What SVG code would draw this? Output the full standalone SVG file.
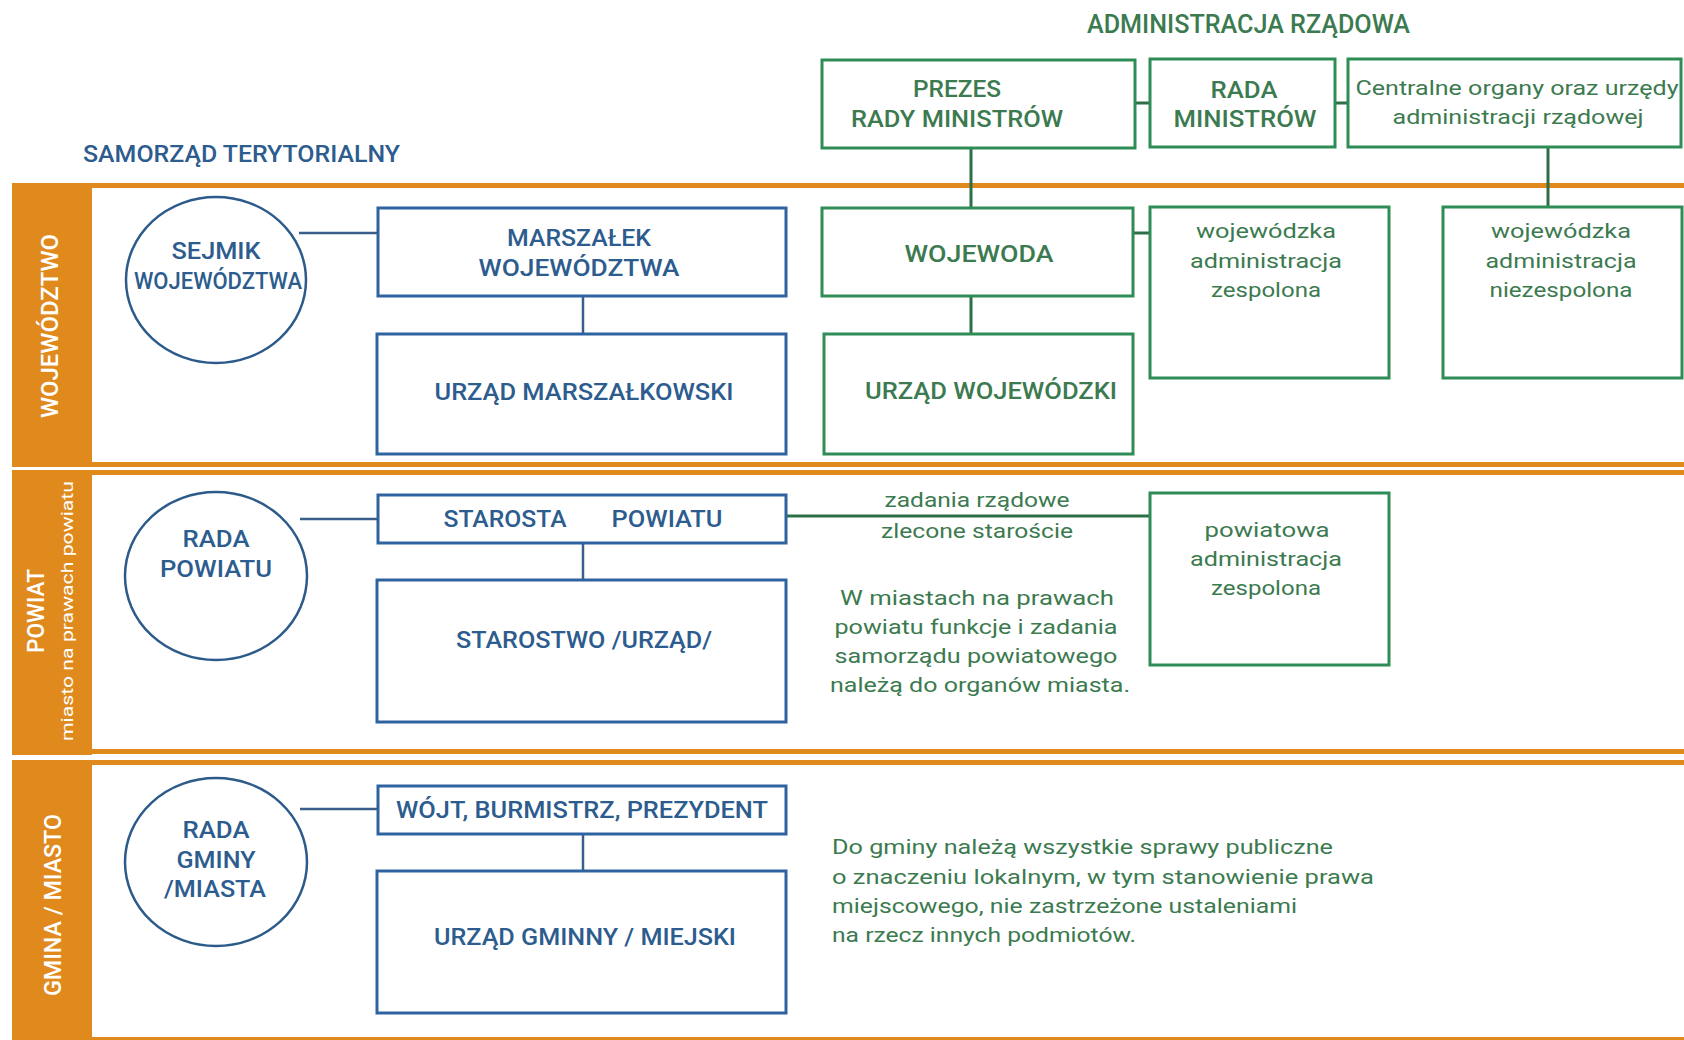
<svg xmlns="http://www.w3.org/2000/svg" width="1684" height="1040" viewBox="0 0 1684 1040">
<style>
.o{fill:#E08A1E}
.bb{fill:#fff;stroke:#2F63A0;stroke-width:3}
.gb{fill:#fff;stroke:#2E8C57;stroke-width:3}
.bl{stroke:#3A5F8A;stroke-width:2.5;fill:none}
.gl{stroke:#2D6E47;stroke-width:3;fill:none}
text{font-family:Roboto,"Liberation Sans",sans-serif}
.bt{fill:#2D5C8E;font-size:24px;font-weight:500;text-anchor:middle}
.gt{fill:#3C7A4F;font-size:24px;font-weight:500;text-anchor:middle}
.gs{fill:#3C7A4F;font-size:21px;text-anchor:middle}
.gp{fill:#3C7A4F;font-size:21px}
.wt{fill:#fff;font-size:24px;font-weight:500;text-anchor:middle}
.ws{fill:#fff;font-size:17px;text-anchor:middle}
</style>
<rect width="1684" height="1040" fill="#fff"/>
<g id="bands">
<rect class="o" x="12" y="183" width="1672" height="5"/>
<rect class="o" x="12" y="183" width="80" height="284"/>
<rect class="o" x="12" y="462" width="1672" height="5"/>
<rect class="o" x="12" y="470" width="1672" height="5"/>
<rect class="o" x="12" y="470" width="80" height="285"/>
<rect class="o" x="12" y="749" width="1672" height="5"/>
<rect class="o" x="12" y="760" width="1672" height="5"/>
<rect class="o" x="12" y="760" width="80" height="280"/>
<rect class="o" x="12" y="1037" width="1672" height="3"/>
<text class="wt" transform="translate(58,326) rotate(-90)" textLength="184" lengthAdjust="spacingAndGlyphs">WOJEWÓDZTWO</text>
<text class="wt" transform="translate(44,611) rotate(-90)" textLength="84" lengthAdjust="spacingAndGlyphs">POWIAT</text>
<text class="ws" transform="translate(73,611) rotate(-90)" textLength="260" lengthAdjust="spacingAndGlyphs">miasto na prawach powiatu</text>
<text class="wt" transform="translate(61,905) rotate(-90)" textLength="182" lengthAdjust="spacingAndGlyphs">GMINA / MIASTO</text>
</g>
<g id="headers">
<text x="83" y="162" fill="#2D5C8E" font-size="24" font-weight="500" textLength="317" lengthAdjust="spacingAndGlyphs">SAMORZĄD TERYTORIALNY</text>
<text x="1087" y="33" fill="#3C7A4F" font-size="25" font-weight="500" textLength="323" lengthAdjust="spacingAndGlyphs">ADMINISTRACJA RZĄDOWA</text>
</g>
<g id="connectors">
<line class="gl" x1="1135" y1="103" x2="1150" y2="103"/>
<line class="gl" x1="1335" y1="103" x2="1348" y2="103"/>
<line class="gl" x1="971" y1="148" x2="971" y2="208"/>
<line class="gl" x1="1548" y1="147" x2="1548" y2="207"/>
<line class="gl" x1="1133" y1="233" x2="1150" y2="233"/>
<line class="gl" x1="971" y1="296" x2="971" y2="334"/>
<line class="gl" x1="786" y1="516" x2="1150" y2="516"/>
<line class="bl" x1="299" y1="233" x2="378" y2="233"/>
<line class="bl" x1="583" y1="296" x2="583" y2="334"/>
<line class="bl" x1="300" y1="519" x2="378" y2="519"/>
<line class="bl" x1="583" y1="543" x2="583" y2="580"/>
<line class="bl" x1="300" y1="809" x2="378" y2="809"/>
<line class="bl" x1="583" y1="834" x2="583" y2="871"/>
</g>
<g id="prezes">
<rect class="gb" x="822" y="60" width="313" height="88"/>
<text class="gt" x="957" y="97" textLength="88" lengthAdjust="spacingAndGlyphs">PREZES</text>
<text class="gt" x="957" y="127" textLength="212" lengthAdjust="spacingAndGlyphs">RADY MINISTRÓW</text>
</g>
<g id="rada-ministrow">
<rect class="gb" x="1150" y="59" width="185" height="88"/>
<text class="gt" x="1244" y="98" textLength="67" lengthAdjust="spacingAndGlyphs">RADA</text>
<text class="gt" x="1245" y="127" textLength="143" lengthAdjust="spacingAndGlyphs">MINISTRÓW</text>
</g>
<g id="centralne">
<rect class="gb" x="1348" y="59" width="333" height="88"/>
<text class="gs" x="1517" y="95" textLength="323" lengthAdjust="spacingAndGlyphs">Centralne organy oraz urzędy</text>
<text class="gs" x="1518" y="124" textLength="251" lengthAdjust="spacingAndGlyphs">administracji rządowej</text>
</g>
<g id="wojewoda">
<rect class="gb" x="822" y="208" width="311" height="88"/>
<text class="gt" x="979" y="262" textLength="149" lengthAdjust="spacingAndGlyphs">WOJEWODA</text>
</g>
<g id="urzad-wojewodzki">
<rect class="gb" x="824" y="334" width="309" height="120"/>
<text class="gt" x="991" y="399" textLength="252" lengthAdjust="spacingAndGlyphs">URZĄD WOJEWÓDZKI</text>
</g>
<g id="woj-zespolona">
<rect class="gb" x="1150" y="207" width="239" height="171"/>
<text class="gs" x="1266" y="238" textLength="140" lengthAdjust="spacingAndGlyphs">wojewódzka</text>
<text class="gs" x="1266" y="268" textLength="152" lengthAdjust="spacingAndGlyphs">administracja</text>
<text class="gs" x="1266" y="297" textLength="110" lengthAdjust="spacingAndGlyphs">zespolona</text>
</g>
<g id="woj-niezespolona">
<rect class="gb" x="1443" y="207" width="239" height="171"/>
<text class="gs" x="1561" y="238" textLength="140" lengthAdjust="spacingAndGlyphs">wojewódzka</text>
<text class="gs" x="1561" y="268" textLength="151" lengthAdjust="spacingAndGlyphs">administracja</text>
<text class="gs" x="1561" y="297" textLength="143" lengthAdjust="spacingAndGlyphs">niezespolona</text>
</g>
<g id="pow-zespolona">
<rect class="gb" x="1150" y="493" width="239" height="172"/>
<text class="gs" x="1267" y="537" textLength="125" lengthAdjust="spacingAndGlyphs">powiatowa</text>
<text class="gs" x="1266" y="566" textLength="152" lengthAdjust="spacingAndGlyphs">administracja</text>
<text class="gs" x="1266" y="595" textLength="110" lengthAdjust="spacingAndGlyphs">zespolona</text>
</g>
<g id="zadania-label">
<text class="gs" x="977" y="507" textLength="185" lengthAdjust="spacingAndGlyphs">zadania rządowe</text>
<text class="gs" x="977" y="538" textLength="192" lengthAdjust="spacingAndGlyphs">zlecone staroście</text>
</g>
<g id="note-powiat">
<text class="gs" x="977" y="605" textLength="274" lengthAdjust="spacingAndGlyphs">W miastach na prawach</text>
<text class="gs" x="976" y="634" textLength="283" lengthAdjust="spacingAndGlyphs">powiatu funkcje i zadania</text>
<text class="gs" x="976" y="663" textLength="283" lengthAdjust="spacingAndGlyphs">samorządu powiatowego</text>
<text class="gs" x="980" y="692" textLength="300" lengthAdjust="spacingAndGlyphs">należą do organów miasta.</text>
</g>
<g id="note-gmina">
<text class="gp" x="832" y="854" textLength="501" lengthAdjust="spacingAndGlyphs">Do gminy należą wszystkie sprawy publiczne</text>
<text class="gp" x="832" y="884" textLength="542" lengthAdjust="spacingAndGlyphs">o znaczeniu lokalnym, w tym stanowienie prawa</text>
<text class="gp" x="832" y="913" textLength="465" lengthAdjust="spacingAndGlyphs">miejscowego, nie zastrzeżone ustaleniami</text>
<text class="gp" x="832" y="942" textLength="304" lengthAdjust="spacingAndGlyphs">na rzecz innych podmiotów.</text>
</g>
<g id="sejmik">
<ellipse cx="216" cy="280" rx="90" ry="83" fill="#fff" stroke="#2C5A8A" stroke-width="2.5"/>
<text class="bt" x="216" y="259" textLength="89" lengthAdjust="spacingAndGlyphs">SEJMIK</text>
<text class="bt" x="218" y="289" textLength="168" lengthAdjust="spacingAndGlyphs">WOJEWÓDZTWA</text>
</g>
<g id="marszalek">
<rect class="bb" x="378" y="208" width="408" height="88"/>
<text class="bt" x="579" y="246" textLength="144" lengthAdjust="spacingAndGlyphs">MARSZAŁEK</text>
<text class="bt" x="579" y="276" textLength="201" lengthAdjust="spacingAndGlyphs">WOJEWÓDZTWA</text>
</g>
<g id="urzad-marszalkowski">
<rect class="bb" x="377" y="334" width="409" height="120"/>
<text class="bt" x="584" y="400" textLength="299" lengthAdjust="spacingAndGlyphs">URZĄD MARSZAŁKOWSKI</text>
</g>
<g id="rada-powiatu">
<ellipse cx="216" cy="576" rx="91" ry="84" fill="#fff" stroke="#2C5A8A" stroke-width="2.5"/>
<text class="bt" x="216" y="547" textLength="67" lengthAdjust="spacingAndGlyphs">RADA</text>
<text class="bt" x="216" y="577" textLength="112" lengthAdjust="spacingAndGlyphs">POWIATU</text>
</g>
<g id="starosta">
<rect class="bb" x="378" y="495" width="408" height="48"/>
<text class="bt" x="505" y="527" textLength="123" lengthAdjust="spacingAndGlyphs">STAROSTA</text>
<text class="bt" x="667" y="527" textLength="111" lengthAdjust="spacingAndGlyphs">POWIATU</text>
</g>
<g id="starostwo">
<rect class="bb" x="377" y="580" width="409" height="142"/>
<text class="bt" x="584" y="648" textLength="256" lengthAdjust="spacingAndGlyphs">STAROSTWO /URZĄD/</text>
</g>
<g id="rada-gminy">
<ellipse cx="216" cy="862" rx="91" ry="84" fill="#fff" stroke="#2C5A8A" stroke-width="2.5"/>
<text class="bt" x="216" y="838" textLength="67" lengthAdjust="spacingAndGlyphs">RADA</text>
<text class="bt" x="216" y="868" textLength="79" lengthAdjust="spacingAndGlyphs">GMINY</text>
<text class="bt" x="215" y="897" textLength="102" lengthAdjust="spacingAndGlyphs">/MIASTA</text>
</g>
<g id="wojt">
<rect class="bb" x="378" y="786" width="408" height="48"/>
<text class="bt" x="582" y="818" textLength="372" lengthAdjust="spacingAndGlyphs">WÓJT, BURMISTRZ, PREZYDENT</text>
</g>
<g id="urzad-gminny">
<rect class="bb" x="377" y="871" width="409" height="142"/>
<text class="bt" x="585" y="945" textLength="302" lengthAdjust="spacingAndGlyphs">URZĄD GMINNY / MIEJSKI</text>
</g>
</svg>
